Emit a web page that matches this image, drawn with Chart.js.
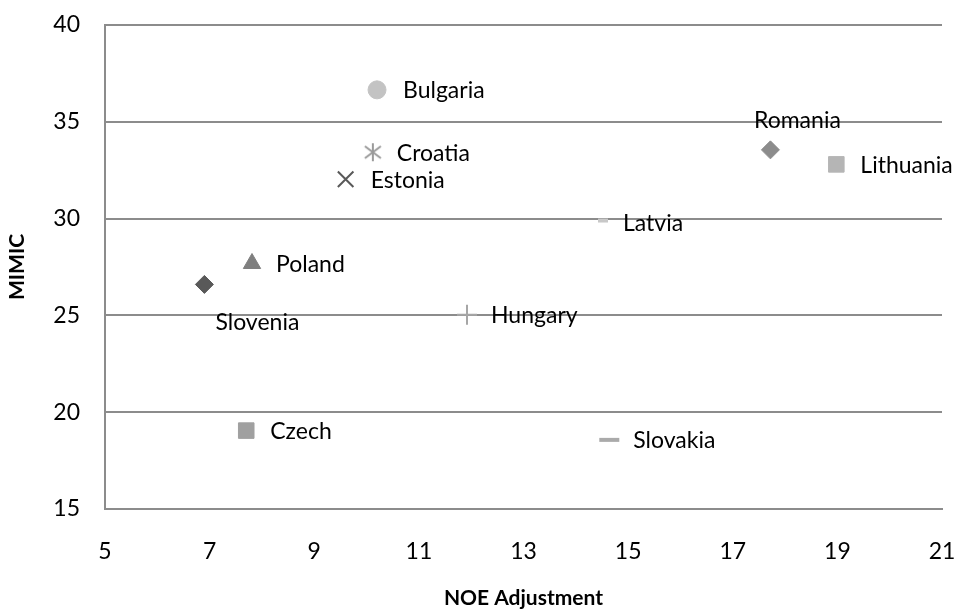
<!DOCTYPE html>
<html>
<head>
<meta charset="utf-8">
<script src="https://cdn.jsdelivr.net/npm/chart.js@4"></script>
<style>
  html, body { margin: 0; padding: 0; background: #fff; }
  #wrap { width: 960px; height: 611px; }
</style>
</head>
<body>
<div id="wrap"><canvas id="scatterChart"></canvas></div>
<script>
// data
const countries = ['Bulgaria', 'Croatia', 'Estonia', 'Romania', 'Lithuania', 'Latvia', 'Poland', 'Slovenia', 'Hungary', 'Czech', 'Slovakia'];
const noeAdjustment = [10.2, 10.12, 9.6, 17.72, 18.98, 14.52, 7.81, 6.9, 11.92, 7.7, 14.64];
const mimic = [36.65, 33.43, 32.03, 33.55, 32.8, 29.9, 27.68, 26.6, 25.04, 19.05, 18.57];
const xTicks = [5, 7, 9, 11, 13, 15, 17, 19, 21];
const yTicks = [15, 20, 25, 30, 35, 40];

// asterisk marker for Croatia
function asterisk(color) {
    const c = document.createElement('canvas');
    c.width = 22; c.height = 22;
    const g = c.getContext('2d');
    g.strokeStyle = color;
    g.lineWidth = 2;
    g.beginPath();
    g.moveTo(11, 2); g.lineTo(11, 20);
    g.moveTo(3, 5); g.lineTo(19, 17);
    g.moveTo(3, 17); g.lineTo(19, 5);
    g.stroke();
    return c;
}

// marker styles, same order as countries
const markerStyle = ['circle', asterisk('#9a9a9a'), 'crossRot', 'rectRot', 'rect', 'line', 'triangle', 'rectRot', 'cross', 'rect', 'line'];
const markerColor = ['#c3c3c3', '#9a9a9a', '#595959', '#8c8c8c', '#b5b5b5', '#c8c8c8', '#7f7f7f', '#595959', '#a6a6a6', '#a0a0a0', '#aaaaaa'];
const markerRadius = [9, 11, 11, 9, 11, 5, 10, 9, 10, 11, 10];
const markerBorder = [1, 1, 2, 1, 1, 4, 1, 1, 2, 1, 4];
// label offsets (dx, dy) relative to the marker, and alignment
const labelDx = [26, 24, 25, 27, 24, 20, 24, 53, 24, 24, 24];
const labelDy = [1, 1, 1, -29, 1, 3, 1, 38, 1, 1, 1];
const labelAlign = ['left', 'left', 'left', 'center', 'left', 'left', 'left', 'center', 'left', 'left', 'left'];

const pointLabels = {
    id: 'pointLabels',
    afterDatasetsDraw(chart) {
        const ctx = chart.ctx;
        const meta = chart.getDatasetMeta(0);
        ctx.save();
        ctx.font = '23px Lato';
        ctx.fillStyle = '#000';
        ctx.textBaseline = 'middle';
        meta.data.forEach((pt, i) => {
            ctx.textAlign = labelAlign[i];
            ctx.fillText(countries[i], pt.x + labelDx[i], pt.y + labelDy[i]);
        });
        ctx.restore();
    }
};

var ctx = document.getElementById('scatterChart').getContext('2d');

const scatterChart = new Chart(ctx, {
    type: 'scatter',
    data: {
        datasets: [{
            label: 'MIMIC',
            data: countries.map((c, i) => ({ x: noeAdjustment[i], y: mimic[i] })),
            pointStyle: markerStyle,
            backgroundColor: markerColor,
            borderColor: markerColor,
            pointRadius: markerRadius,
            pointHoverRadius: markerRadius,
            borderWidth: markerBorder,
        }]
    },
    options: {
        responsive: true,
        maintainAspectRatio: false,
        animation: false,
        layout: { padding: { top: 25, right: 18, left: 0, bottom: 0 } },
        plugins: {
            legend: { display: false },
            tooltip: { enabled: false }
        },
        scales: {
            x: {
                type: 'linear',
                min: 5,
                max: 21,
                afterBuildTicks: (axis) => { axis.ticks = xTicks.map(v => ({ value: v })); },
                afterFit: (axis) => {
                    axis.height = 102;
                    axis.paddingLeft = 0;
                    axis.paddingRight = 0;
                },
                grid: { display: false, drawTicks: false },
                border: { display: true, color: '#8c8c8c', width: 2 },
                ticks: {
                    font: { size: 23, family: 'Lato' },
                    color: '#000',
                    padding: 29,
                    maxRotation: 0
                },
                title: {
                    display: true,
                    text: 'NOE Adjustment',
                    font: { size: 21, family: 'Lato', weight: 'bold' },
                    color: '#000',
                    padding: { top: 20, bottom: 0 }
                }
            },
            y: {
                type: 'linear',
                min: 15,
                max: 40,
                afterBuildTicks: (axis) => { axis.ticks = yTicks.map(v => ({ value: v })); },
                afterFit: (axis) => {
                    axis.width = 105;
                    axis.paddingTop = 0;
                    axis.paddingBottom = 0;
                },
                grid: { color: '#8c8c8c', lineWidth: 2, drawTicks: false },
                border: { display: true, color: '#8c8c8c', width: 2 },
                ticks: {
                    font: { size: 23, family: 'Lato' },
                    color: '#000',
                    padding: 25
                },
                title: {
                    display: true,
                    text: 'MIMIC',
                    font: { size: 21, family: 'Lato', weight: 'bold' },
                    color: '#000',
                    padding: { top: 5, bottom: 10 }
                }
            }
        }
    },
    plugins: [pointLabels]
})
</script>
</body>
</html>
